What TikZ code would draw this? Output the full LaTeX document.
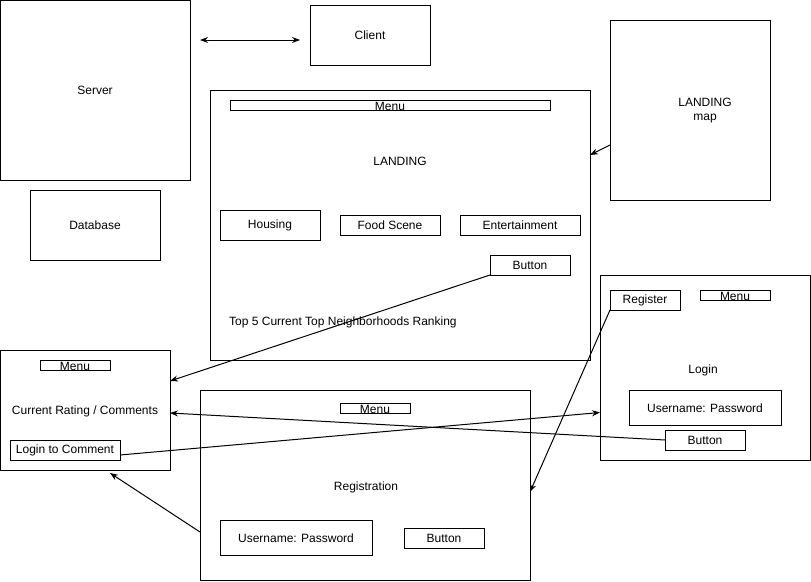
\documentclass[tikz,border=0pt]{standalone}
\usepackage{fontspec}
\setmainfont{Liberation Sans}
\usetikzlibrary{arrows.meta}
\begin{document}
\begin{tikzpicture}[x=1pt,y=-1pt,
  font=\fontsize{12}{14}\selectfont,
  box/.style={draw=black,line width=1pt,fill=white,inner sep=0pt,outer sep=0pt,align=center},
  bar/.style={draw=black,line width=1pt,inner sep=0pt,outer sep=0pt},
  lbl/.style={inner sep=0pt,align=center},
  link/.style={line width=1pt,-{Stealth[length=8pt,width=6pt]}},
  biglink/.style={line width=1pt,{Stealth[length=8pt,width=6pt]}-{Stealth[length=8pt,width=6pt]}}]
\useasboundingbox (0,0) rectangle (811,581);

% top row
\node[box,minimum width=190,minimum height=180] (server) at (95,90) {Server};
\node[box,minimum width=120,minimum height=60] (client) at (370,35) {Client};
\node[box,minimum width=160,minimum height=180] (map) at (690,110) {};
\node[lbl] (maptext) at (705,111) {LANDING\\map};
\node[box,minimum width=130,minimum height=70] (db) at (95,225) {Database};

% landing page
\node[box,minimum width=380,minimum height=270] (landing) at (400,225) {};
\node[bar,minimum width=320,minimum height=10] (lmenu) at (390,105) {};
\node[lbl] at (390,106) {Menu};
\node[lbl] (ltitle) at (400,161) {LANDING};
\node[box,minimum width=100,minimum height=30] (housing) at (270,225) {Housing};
\node[box,minimum width=100,minimum height=20] (food) at (390,225) {Food Scene};
\node[box,minimum width=120,minimum height=20] (ent) at (520,225) {Entertainment};
\node[box,minimum width=80,minimum height=20] (lbtn) at (530,265) {Button};
\node[lbl,anchor=west] (rank) at (229,322) {Top 5 Current Top Neighborhoods Ranking};

% rating / comments page
\node[box,minimum width=170,minimum height=120] (crc) at (85,410) {};
\node[bar,minimum width=70,minimum height=10] (cmenu) at (75,365) {};
\node[lbl] at (75,366) {Menu};
\node[lbl] (ctitle) at (85,411) {Current Rating / Comments};
\node[box,minimum width=110,minimum height=20] (ltc) at (65,450) {Login to Comment};

% registration page
\node[box,minimum width=330,minimum height=190] (regpage) at (365,485) {};
\node[bar,minimum width=70,minimum height=10] (rmenu) at (375,408) {};
\node[lbl] at (375,409) {Menu};
\node[lbl] (rtitle) at (366,487) {Registration};
\node[box,minimum width=152,minimum height=35] (ruser) at (296,538) {Username: Password};
\node[box,minimum width=80,minimum height=20] (rbtn) at (444,538) {Button};

% login page
\node[box,minimum width=210,minimum height=185] (login) at (705,367.5) {};
\node[box,minimum width=70,minimum height=20] (reg) at (645,300) {Register};
\node[bar,minimum width=70,minimum height=10] (gmenu) at (735,295) {};
\node[lbl] at (735,296) {Menu};
\node[lbl] (gtitle) at (703,370) {Login};
\node[box,minimum width=152,minimum height=35] (guser) at (705,408) {Username: Password};
\node[box,minimum width=80,minimum height=20] (gbtn) at (705,440) {Button};

% connectors
\coordinate (sc1) at ([xshift=10pt,yshift=50pt]server.east);
\coordinate (sc2) at ([xshift=-10pt,yshift=-5pt]client.west);
\draw[biglink] (sc1) -- (sc2);
\draw[link] ([yshift=-35pt]map.west) -- ([yshift=70pt]landing.east);
\draw[link] (lbtn.south west) -- ([yshift=29pt]crc.east);
\draw[link] (gbtn.west) -- ([yshift=-3pt]crc.east);
\draw[link] ([yshift=-5pt]ltc.east) -- ([yshift=-45pt]login.west);
\draw[link] (reg.south west) -- ([yshift=-7pt]regpage.east);
\coordinate (below) at ([xshift=25pt,yshift=-3pt]crc.south);
\draw[link] ([yshift=-47pt]regpage.west) -- (below);
\end{tikzpicture}
\end{document}
